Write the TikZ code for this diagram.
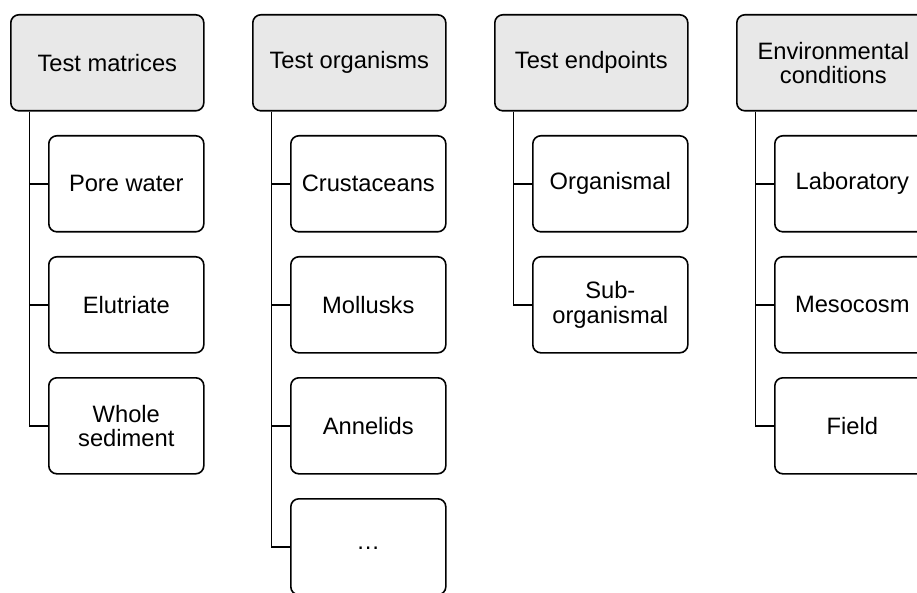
\documentclass[tikz,border=0pt]{standalone}
\usepackage{fontspec}
\setmainfont{Liberation Sans}
\begin{document}
\begin{tikzpicture}[x=1pt,y=-1pt,
  box/.style={draw=black,line width=1.6pt,rounded corners=8pt,align=center,
    font=\fontsize{23.7}{24.5}\selectfont,inner sep=0pt,anchor=north west},
  head/.style={box,fill=gray!18,minimum width=193pt,minimum height=96pt},
  item/.style={box,fill=white,minimum width=155pt,minimum height=96pt},
  link/.style={line width=1.6pt}]
\useasboundingbox (0,0) rectangle (917,593);
\clip (0,0) rectangle (917,593);
% column 1
\node[head] (h1) at (10,14) {Test matrices};
\node[item] (a1) at (48,135) {Pore water};
\node[item] (a2) at (48,256) {Elutriate};
\node[item] (a3) at (48,377) {Whole\\sediment};
% column 2
\node[head] (h2) at (252,14) {Test organisms};
\node[item] (b1) at (290,135) {Crustaceans};
\node[item] (b2) at (290,256) {Mollusks};
\node[item] (b3) at (290,377) {Annelids};
\node[item] (b4) at (290,498) {\raisebox{-6pt}{\dots}};
% column 3
\node[head] (h3) at (494,14) {Test endpoints};
\node[item] (c1) at (532,135) {Organismal};
\node[item] (c2) at (532,256) {Sub-\\organismal};
% column 4
\node[head] (h4) at (736,14) {Environmental\\conditions};
\node[item] (d1) at (774,135) {Laboratory};
\node[item] (d2) at (774,256) {Mesocosm};
\node[item] (d3) at (774,377) {Field};
% connectors
\foreach \h/\c in {h1/a1,h1/a2,h1/a3,h2/b1,h2/b2,h2/b3,h2/b4,h3/c1,h3/c2,h4/d1,h4/d2,h4/d3}
  \draw[link] ([xshift=19.5pt]\h.south west) |- (\c.west);
\end{tikzpicture}
\end{document}
